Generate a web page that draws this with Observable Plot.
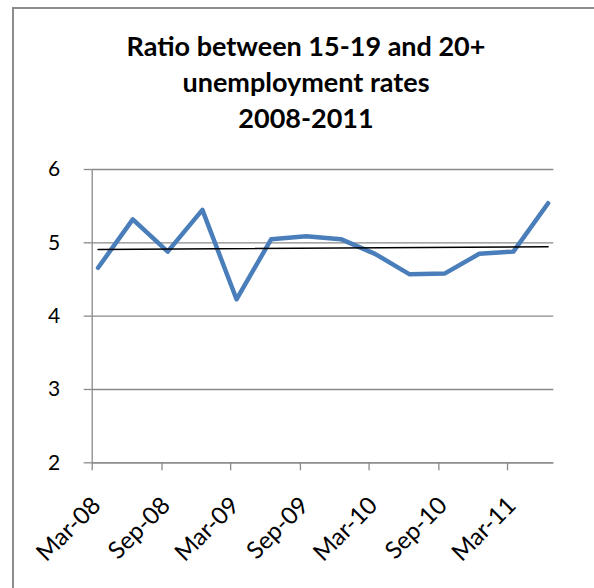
<!DOCTYPE html>
<html>
<head>
<meta charset="utf-8">
<script src="https://cdn.jsdelivr.net/npm/d3@7"></script>
<script src="https://cdn.jsdelivr.net/npm/@observablehq/plot@0.6"></script>
<style>
  body { margin: 0; background: #fff; font-family: Lato, "Open Sans", sans-serif; }
  #frame {
    position: absolute; left: 12px; top: 7px; width: 640px; height: 640px;
    border: 2px solid #8c8c8c; box-sizing: border-box;
  }
  #title {
    position: absolute; left: 0; top: 28px; width: 612px;
    text-align: center; font-weight: bold; font-size: 27px; line-height: 36px; color: #000;
  }
  #chart { position: absolute; left: 0; top: 150px; }
</style>
</head>
<body>
<div id="frame"></div>
<div id="title">Ratio between 15-19 and 20+<br>unemployment rates<br>2008-2011</div>
<div id="chart"></div>
<script>
// Quarterly ratio of the 15-19 unemployment rate to the 20+ rate
const quarters = [
  "2008-03", "2008-06", "2008-09", "2008-12",
  "2009-03", "2009-06", "2009-09", "2009-12",
  "2010-03", "2010-06", "2010-09", "2010-12",
  "2011-03", "2011-06"
];
const ratios = [4.66, 5.32, 4.88, 5.45, 4.23, 5.05, 5.09, 5.05, 4.85, 4.57, 4.58, 4.85, 4.88, 5.54];

// Axis labels
const tickMonths = ["2008-03", "2008-09", "2009-03", "2009-09", "2010-03", "2010-09", "2011-03"];
const yTicks = [2, 3, 4, 5, 6];

const monthStart = (s) => {
  const [y, m] = s.split("-").map(Number);
  return new Date(Date.UTC(y, m - 1, 1));
};
// Each month is a slot on the date axis; points and labels sit in the middle of their month.
const monthMid = (s) => {
  const a = monthStart(s);
  return new Date((+a + +d3.utcMonth.offset(a, 1)) / 2);
};

const data = quarters.map((q, i) => ({date: monthMid(q), ratio: ratios[i]}));
const xDomain = [monthStart(quarters[0]), d3.utcMonth.offset(monthStart(quarters[quarters.length - 1]), 1)];
const xTicks = tickMonths.map(monthStart);
const xLabels = tickMonths.map((m) => ({date: monthMid(m), text: d3.utcFormat("%b-%y")(monthStart(m))}));

const gray = "#898989";

const chart = Plot.plot({
  width: 594,
  height: 438,
  marginTop: 19,
  marginLeft: 91.7,
  marginRight: 40.7,
  marginBottom: 125.7,
  style: {fontFamily: "Lato, 'Open Sans', sans-serif", fontSize: "21px", color: "#000", background: "transparent"},
  x: {type: "utc", domain: xDomain, axis: null},
  y: {domain: [2, 6], axis: null},
  marks: [
    Plot.gridY(yTicks, {stroke: gray, strokeOpacity: 1, strokeWidth: 1.3}),
    Plot.axisY({ticks: yTicks, tickSize: 8, tickPadding: 24, stroke: gray, strokeWidth: 1.3, tickFormat: d3.format("d"), label: null}),
    Plot.ruleX([xDomain[0]], {stroke: gray, strokeWidth: 1.3}),
    Plot.ruleY([2], {stroke: gray, strokeWidth: 1.3}),
    // x tick marks hanging below the axis
    Plot.ruleX(xTicks, {y1: 2, y2: 2, insetBottom: -8, stroke: gray, strokeWidth: 1.3}),
    // rotated month labels
    Plot.text(xLabels, {
      x: "date", text: "text", frameAnchor: "bottom", dx: 4, dy: 44, rotate: -45,
      textAnchor: "end", fontSize: 24, letterSpacing: "0.6px", fill: "#000"
    }),
    Plot.line(data, {x: "date", y: "ratio", stroke: "#4a7ebb", strokeWidth: 4.5, strokeLinejoin: "round", strokeLinecap: "round"}),
    Plot.linearRegressionY(data, {x: "date", y: "ratio", stroke: "#000", strokeWidth: 1.5, ci: 0})
  ]
});
document.getElementById("chart").append(chart);
</script>
</body>
</html>
